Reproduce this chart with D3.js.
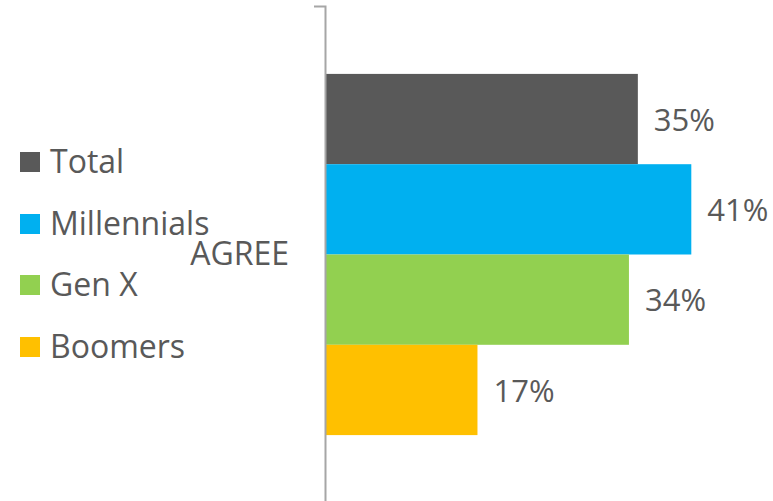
<!DOCTYPE html>
<html><head><meta charset="utf-8">
<script src="https://cdn.jsdelivr.net/npm/d3@7/dist/d3.min.js"></script>
<style>body{margin:0;background:#fff;}svg{display:block;font-family:"Open Sans",sans-serif;}</style>
</head><body>
<svg id="c" width="773" height="501"></svg>
<script>
const categories = ["AGREE"];
const series = ["Total", "Millennials", "Gen X", "Boomers"];
const values = [35, 41, 34, 17];
const colors = ["#595959", "#00b0f0", "#92d050", "#ffc000"];
const labels = ["35%", "41%", "34%", "17%"];

const svg = d3.select("#c");
const axisX = 325;
const x = d3.scaleLinear().domain([0, 100]).range([axisX + 1, axisX + 1 + 891]);
const y = d3.scaleBand().domain(categories).range([6, 503]).paddingInner(0).paddingOuter(0.188);
const ys = d3.scaleBand().domain(series).range([0, y.bandwidth()]).padding(0);

const g = svg.append("g");
categories.forEach(cat => {
  series.forEach((s, i) => {
    g.append("rect")
      .attr("x", x(0))
      .attr("y", y(cat) + ys(s))
      .attr("width", x(values[i]) - x(0))
      .attr("height", ys.bandwidth())
      .attr("fill", colors[i]);
    g.append("text")
      .attr("x", x(values[i]) + 16)
      .attr("y", y(cat) + ys(s) + ys.bandwidth() / 2)
      .attr("dy", "0.38em")
      .attr("fill", "#595959")
      .style("font-size", "31px")
      .text(labels[i]);
  });
});

const ax = svg.append("g").attr("transform", `translate(${axisX},0)`)
  .call(d3.axisLeft(y).tickSizeInner(0).tickSizeOuter(11).tickPadding(36));
ax.select(".domain").attr("stroke", "#a6a6a6").attr("stroke-width", 2);
ax.selectAll("text").attr("fill", "#595959").style("font-size", "32px").style("font-family", "'Open Sans',sans-serif");

const legY = [152, 214, 275, 337];
const leg = svg.append("g");
series.forEach((s, i) => {
  leg.append("rect").attr("x", 20).attr("y", legY[i]).attr("width", 20).attr("height", 20).attr("fill", colors[i]);
  leg.append("text").attr("x", 50).attr("y", legY[i] + 21).attr("fill", "#595959").style("font-size", "32px").text(s);
});
</script>
</body></html>
